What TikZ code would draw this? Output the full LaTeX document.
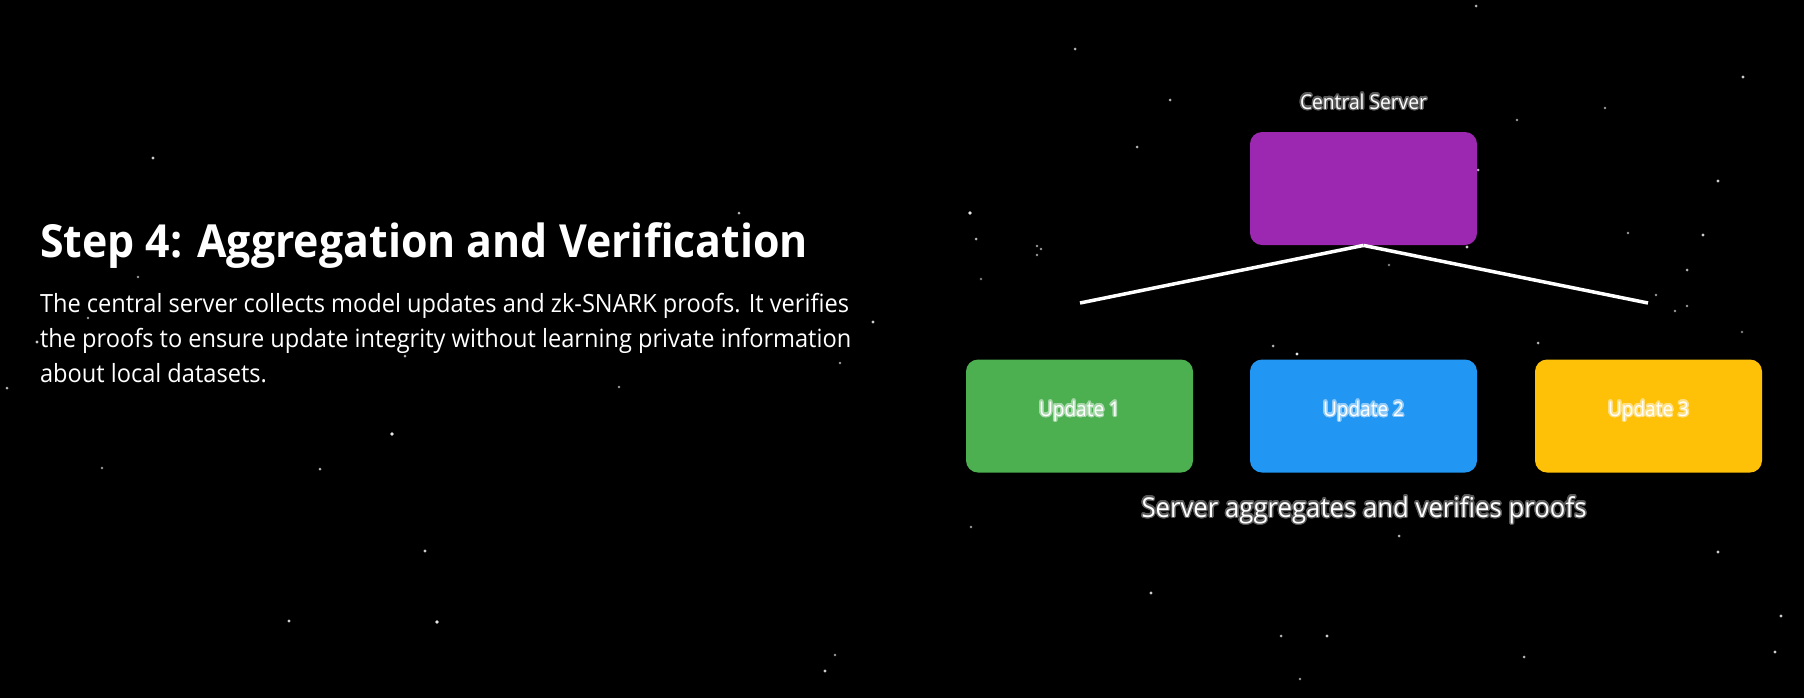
\documentclass[tikz,border=0pt]{standalone}
\usepackage{fontspec}
\setmainfont[FakeStretch=0.94]{Open Sans}
\usepackage{contour}
\contourlength{0.7pt}
\contournumber{20}
\definecolor{cpurple}{HTML}{9C27B0}
\definecolor{cgreen}{HTML}{4CAF50}
\definecolor{cblue}{HTML}{2196F3}
\definecolor{camber}{HTML}{FFC107}
\newlength\tmplen
\newcommand\calcsize[4]{%
  \settowidth\tmplen{\normalfont#2\fontsize{10pt}{12pt}\selectfont #4}%
  \pgfmathsetmacro#1{10*#3/\tmplen}%
  \global\let#1#1}
\newcommand\fsz[1]{\fontsize{#1pt}{#1pt}\selectfont}
\AtBeginDocument{%
\calcsize{\titlesz}{\bfseries}{384}{Step 4: Aggregation and Verification}%
\calcsize{\bodysz}{}{404.5}{The central server collects model updates and zk-SNARK proofs. It verifies}%
\calcsize{\csz}{}{63.5}{Central Server}%
\calcsize{\usz}{}{40.5}{Update 1}%
\calcsize{\capsz}{}{222.5}{Server aggregates and verifies proofs}%
}
\begin{document}
\begin{tikzpicture}[x=0.5pt,y=-0.5pt,
  box/.style={rounded corners=6pt, minimum width=113.5pt, minimum height=56.5pt, inner sep=0pt, draw=none},
  wire/.style={draw=white, line width=1.75pt, line cap=butt},
  txt/.style={text=white, inner sep=0pt, outer sep=0pt},
  star/.style={fill=white}]
\fill[black] (0,0) rectangle (1804,698);
\useasboundingbox (0,0) rectangle (1804,698);
% stars
\foreach \x/\y/\r/\o in {153/158/1.2/0.8, 970/213/1.4/0.9, 1170/100/1.1/0.7, 1476/6/1.1/0.7,
  1718/181/1.3/0.8, 1743/77/1.3/0.8, 1605/108/1.0/0.6, 1075/49/1.1/0.7, 1137/147/1.1/0.7,
  1041/249/1.0/0.6, 1297/354/1.3/0.9, 1687/270/1.1/0.7, 1675/311/1.0/0.6, 405/356/1.1/0.7,
  392/434/1.4/0.9, 7/388/1.1/0.7, 320/469/1.1/0.7, 102/468/1.0/0.6, 425/551/1.2/0.8,
  437/622/1.4/0.9, 289/621/1.3/0.8, 825/671/1.3/0.8, 835/655/1.0/0.6, 1151/593/1.2/0.8,
  1281/636/1.1/0.7, 1327/636/1.2/0.8, 1718/552/1.3/0.8, 1781/616/1.2/0.8, 1775/652/1.3/0.8,
  1524/657/1.1/0.7, 1300/679/1.0/0.6, 37/342/1.2/0.8, 138/277/1.0/0.6, 88/318/1.0/0.6,
  739/213/1.1/0.7, 873/322/1.3/0.8, 840/363/1.0/0.6, 619/387/1.0/0.6, 976/239/1.1/0.7,
  1037/246/1.0/0.6, 1037/255/1.0/0.6, 981/279/0.9/0.5, 1703/235/1.3/0.8, 1628/233/1.0/0.6,
  1656/295/1.0/0.6, 1687/306/1.0/0.6, 1742/332/0.9/0.5, 1273/346/1.1/0.7, 1538/343/1.1/0.7,
  1389/265/0.9/0.5, 1517/120/1.0/0.6, 1478/170/1.1/0.7, 1467/247/1.2/0.8, 971/527/1.0/0.6,
  1399/536/1.1/0.7}
  \fill[star, opacity=\o] (\x,\y) circle ({\r+0.4});
% left text
\node[txt, anchor=base west] (title) at (40,257) {\fsz{\titlesz}\bfseries Step 4: Aggregation and Verification};
\node[txt, anchor=base west] (body1) at (40,312) {\fsz{\bodysz}The central server collects model updates and zk-SNARK proofs. It verifies};
\node[txt, anchor=base west] (body2) at (40,347) {\fsz{\bodysz}the proofs to ensure update integrity without learning private information};
\node[txt, anchor=base west] (body3) at (40,382) {\fsz{\bodysz}about local datasets.};
% diagram
\node[box, fill=cpurple] (server) at (1363.5,188.5) {};
\node[box, fill=cgreen] (u1) at (1079.5,416) {};
\node[box, fill=cblue] (u2) at (1363.5,416) {};
\node[box, fill=camber] (u3) at (1648.5,416) {};
\coordinate (lend) at (1080,303);
\coordinate (rend) at (1648,303);
\draw[wire] (server.south) -- (lend);
\draw[wire] (server.south) -- (rend);
\node[txt, anchor=base] (slabel) at (1363.5,109) {\fsz{\csz}\contour{white!35!black}{Central Server}};
\node[txt, anchor=base] (l1) at (1079.5,416) {\fsz{\usz}\contour{cgreen!50!white}{Update 1}};
\node[txt, anchor=base] (l2) at (1363.5,416) {\fsz{\usz}\contour{cblue!50!white}{Update 2}};
\node[txt, anchor=base] (l3) at (1648.5,416) {\fsz{\usz}\contour{camber!50!white}{Update 3}};
\node[txt, anchor=base] (caption) at (1364,517) {\fsz{\capsz}\contour{white!35!black}{Server aggregates and verifies proofs}};
\end{tikzpicture}
\end{document}
